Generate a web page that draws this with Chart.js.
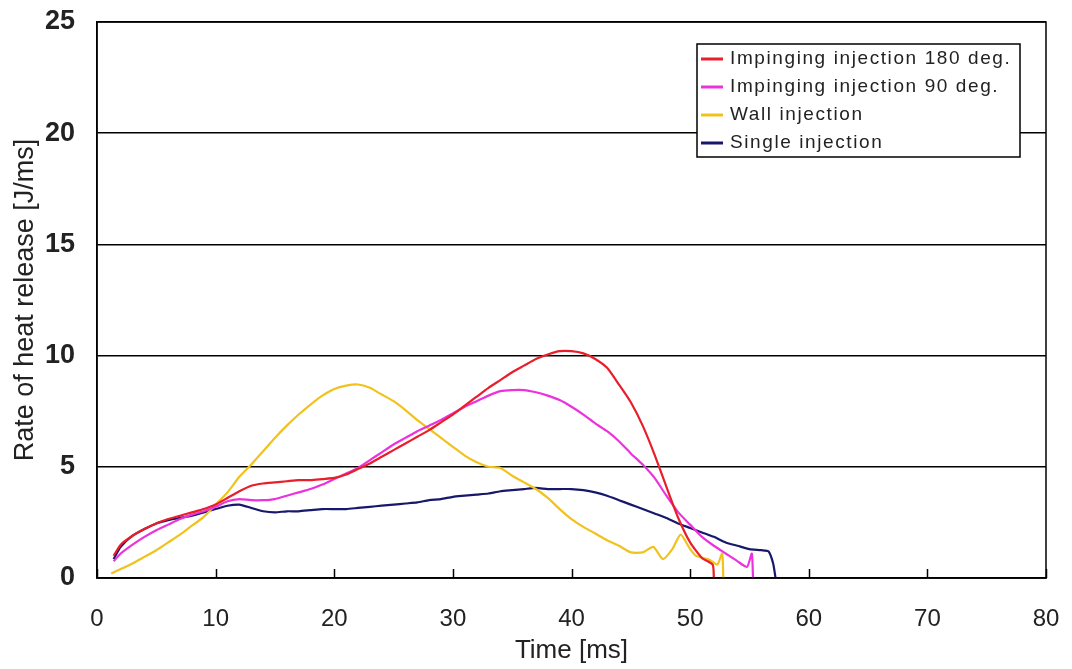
<!DOCTYPE html>
<html>
<head>
<meta charset="utf-8">
<script src="https://cdn.jsdelivr.net/npm/chart.js"></script>
<style>
  html, body { margin: 0; padding: 0; background: #fff; }
  #wrap { width: 1072px; height: 669px; }
</style>
</head>
<body>
<div id="wrap"><canvas id="heat-chart" width="1072" height="669"></canvas></div>
<script>
// values
const seriesNames = ['Impinging injection 180 deg.', 'Impinging injection 90 deg.', 'Wall injection', 'Single injection'];
const seriesColors = ['#e81e2a', '#ec32dc', '#f2c21c', '#17176b'];

const t180 = [1.4, 2, 3, 4, 5, 6, 7, 8, 9, 10, 11, 12, 13, 14, 15, 16, 17, 18, 19, 20, 21, 22, 23, 24, 25, 26, 27, 28, 29, 30, 31, 32, 33, 34, 35, 36, 37, 38, 39, 40, 41, 42, 43, 44, 45, 46, 47, 48, 49, 50, 51, 51.9, 52.0];
const v180 = [1.0, 1.5, 1.9, 2.2, 2.45, 2.65, 2.8, 2.95, 3.1, 3.3, 3.6, 3.9, 4.15, 4.25, 4.3, 4.35, 4.4, 4.4, 4.45, 4.5, 4.65, 4.9, 5.15, 5.45, 5.75, 6.05, 6.35, 6.65, 7.0, 7.35, 7.75, 8.15, 8.55, 8.9, 9.25, 9.55, 9.85, 10.05, 10.2, 10.2, 10.1, 9.85, 9.45, 8.7, 7.9, 6.85, 5.55, 4.1, 2.7, 1.6, 0.9, 0.6, 0];

const t90 = [1.4, 2, 3, 4, 5, 6, 7, 8, 9, 10, 11, 12, 13, 14, 15, 16, 17, 18, 19, 20, 21, 22, 23, 24, 25, 26, 27, 28, 29, 30, 31, 32, 33, 34, 35, 36, 37, 38, 39, 40, 41, 42, 43, 44, 45, 46, 47, 48, 49, 50, 51, 52, 53, 54, 54.8, 55.2, 55.3];
const v90 = [0.75, 1.1, 1.5, 1.85, 2.15, 2.4, 2.65, 2.85, 3.0, 3.2, 3.45, 3.55, 3.5, 3.5, 3.55, 3.7, 3.85, 4.0, 4.2, 4.45, 4.7, 4.95, 5.3, 5.65, 6.0, 6.3, 6.6, 6.85, 7.1, 7.4, 7.7, 7.95, 8.2, 8.4, 8.45, 8.45, 8.35, 8.2, 8.0, 7.7, 7.35, 6.95, 6.6, 6.15, 5.6, 5.1, 4.5, 3.7, 2.95, 2.4, 1.85, 1.45, 1.1, 0.75, 0.5, 1.1, 0];

const tWall = [1.2, 2, 3, 4, 5, 6, 7, 8, 9, 10, 11, 12, 13, 14, 15, 16, 17, 18, 19, 20, 21, 22, 23, 24, 25, 26, 27, 28, 29, 30, 31, 32, 33, 34, 35, 36, 37, 38, 39, 40, 41, 42, 43, 44, 45, 46, 46.9, 47.7, 48.5, 49.2, 50, 50.5, 51.7, 52.3, 52.7, 52.8];
const vWall = [0.2, 0.4, 0.65, 0.95, 1.25, 1.6, 1.95, 2.35, 2.75, 3.3, 3.85, 4.55, 5.1, 5.7, 6.3, 6.85, 7.35, 7.8, 8.2, 8.5, 8.65, 8.7, 8.55, 8.25, 7.95, 7.55, 7.1, 6.7, 6.3, 5.9, 5.5, 5.2, 5.0, 4.95, 4.6, 4.3, 4.0, 3.6, 3.1, 2.65, 2.3, 2.0, 1.7, 1.45, 1.15, 1.15, 1.4, 0.85, 1.3, 1.95, 1.3, 1.0, 0.8, 0.6, 1.1, 0];

const tSingle = [1.4, 2, 3, 4, 5, 6, 7, 8, 9, 10, 11, 12, 13, 14, 15, 16, 17, 18, 19, 20, 21, 22, 23, 24, 25, 26, 27, 28, 29, 30, 31, 32, 33, 34, 35, 36, 37, 38, 39, 40, 41, 42, 43, 44, 45, 46, 47, 48, 49, 50, 51, 52, 53, 54, 55, 56, 56.6, 57.0, 57.2];
const vSingle = [0.85, 1.4, 1.9, 2.2, 2.45, 2.6, 2.7, 2.8, 2.95, 3.1, 3.25, 3.3, 3.15, 3.0, 2.95, 3.0, 3.0, 3.05, 3.1, 3.1, 3.1, 3.15, 3.2, 3.25, 3.3, 3.35, 3.4, 3.5, 3.55, 3.65, 3.7, 3.75, 3.8, 3.9, 3.95, 4.0, 4.05, 4.0, 4.0, 4.0, 3.95, 3.85, 3.7, 3.5, 3.3, 3.1, 2.9, 2.7, 2.45, 2.25, 2.05, 1.85, 1.6, 1.45, 1.3, 1.25, 1.2, 0.65, 0];

const xTicks = [0, 10, 20, 30, 40, 50, 60, 70, 80];
const yTicks = [0, 5, 10, 15, 20, 25];

const allTimes = [t180, t90, tWall, tSingle];
const allValues = [v180, v90, vWall, vSingle];

function toPoints(ts, vs) {
  return ts.map((t, i) => ({ x: t, y: vs[i] }));
}

// frame, inward x ticks and the boxed legend
const framePlugin = {
  id: 'frame',
  afterDatasetsDraw(chart) {
    const ctx = chart.ctx;
    const a = chart.chartArea;
    const xs = chart.scales.x;
    ctx.save();
    ctx.strokeStyle = '#000';
    ctx.lineWidth = 1.5;
    ctx.strokeRect(a.left, a.top, a.right - a.left, a.bottom - a.top);
    xTicks.forEach(v => {
      const px = Math.round(xs.getPixelForValue(v)) + 0.5;
      ctx.beginPath();
      ctx.moveTo(px, a.bottom);
      ctx.lineTo(px, a.bottom - 9);
      ctx.stroke();
    });

    // legend
    const bx = 697, by = 44, bw = 323, bh = 113;
    ctx.fillStyle = '#fff';
    ctx.fillRect(bx, by, bw, bh);
    ctx.lineWidth = 1.5;
    ctx.strokeRect(bx, by, bw, bh);
    ctx.font = '19px "Liberation Sans", Arial, sans-serif';
    ctx.letterSpacing = '1.6px';
    ctx.textBaseline = 'middle';
    chart.data.datasets.forEach((ds, i) => {
      const cy = by + 15 + i * 28;
      ctx.strokeStyle = ds.borderColor;
      ctx.lineWidth = 3;
      ctx.beginPath();
      ctx.moveTo(bx + 4, cy);
      ctx.lineTo(bx + 26, cy);
      ctx.stroke();
      ctx.fillStyle = '#222';
      ctx.fillText(ds.label, bx + 33, cy);
    });
    ctx.restore();
  }
};

const ctx = document.getElementById('heat-chart').getContext('2d');
const myChart = new Chart(ctx, {
  type: 'line',
  data: {
    datasets: seriesNames.map((name, i) => ({
      label: name,
      data: toPoints(allTimes[i], allValues[i]),
      borderColor: seriesColors[i],
      backgroundColor: seriesColors[i],
      borderWidth: 2.2,
      pointRadius: 0,
      tension: 0.2,
      fill: false
    }))
  },
  options: {
    responsive: false,
    animation: false,
    layout: { padding: { top: 22, right: 26, bottom: 0, left: 0 } },
    plugins: {
      legend: { display: false },
      tooltip: { enabled: false }
    },
    scales: {
      x: {
        type: 'linear',
        min: 0,
        max: 80,
        afterBuildTicks: s => { s.ticks = xTicks.map(v => ({ value: v })); },
        afterFit: s => { s.height = 91; },
        grid: { display: true, drawOnChartArea: false, drawTicks: true, tickLength: 27, tickColor: 'rgba(0,0,0,0)' },
        border: { display: true, color: '#000', width: 1.5 },
        ticks: {
          padding: 0,
          color: '#222',
          font: { family: '"Liberation Sans", Arial', size: 24 }
        },
        title: {
          display: true,
          text: 'Time [ms]',
          color: '#222',
          padding: { top: 0, bottom: 3 },
          font: { family: '"Liberation Sans", Arial', size: 26 }
        }
      },
      y: {
        min: 0,
        max: 25,
        afterBuildTicks: s => { s.ticks = yTicks.map(v => ({ value: v })); },
        afterFit: s => { s.width = 97; },
        grid: { color: '#000', lineWidth: 1.5, drawTicks: true, tickLength: 22, tickColor: 'rgba(0,0,0,0)' },
        border: { display: true, color: '#000', width: 1.5 },
        ticks: {
          padding: 0,
          color: '#222',
          font: { family: '"Liberation Sans", Arial', size: 27, weight: 'bold' }
        },
        title: {
          display: true,
          text: 'Rate of heat release [J/ms]',
          color: '#222',
          padding: { top: 9, bottom: 0 },
          font: { family: '"Liberation Sans", Arial', size: 27 }
        }
      }
    }
  },
  plugins: [framePlugin]
});
</script>
</body>
</html>
